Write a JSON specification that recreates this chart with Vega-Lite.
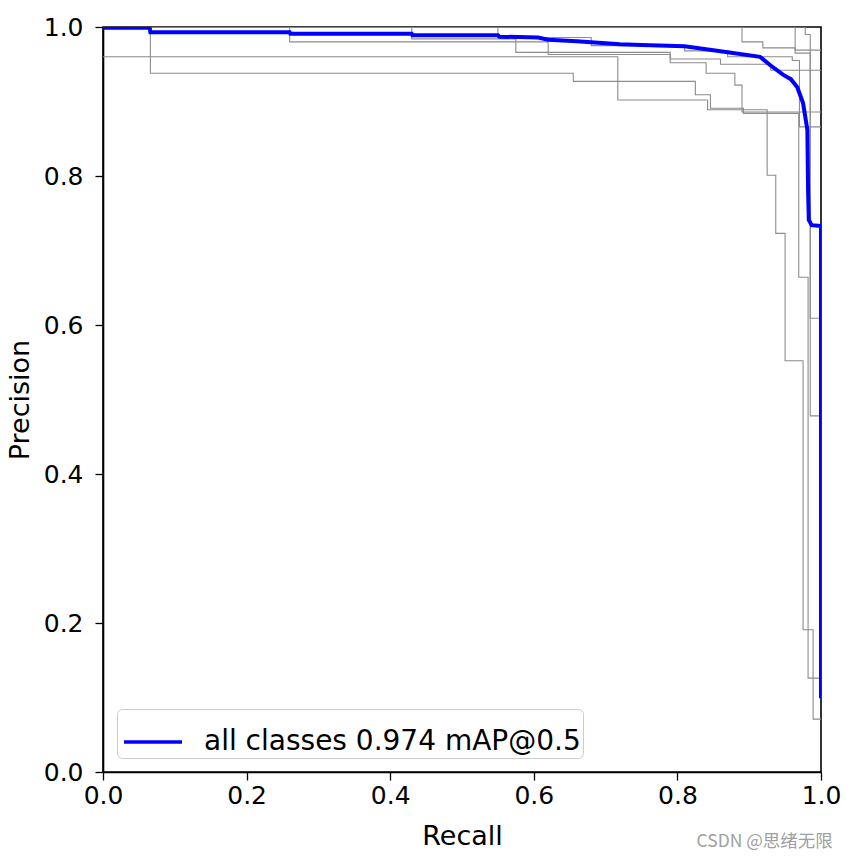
{
  "$schema": "https://vega.github.io/schema/vega-lite/v6.json",
  "autosize": "none",
  "width": 718,
  "height": 745,
  "padding": {"left": 103, "top": 27, "right": 26, "bottom": 87},
  "background": "white",
  "config": {
    "font": "DejaVu Sans",
    "view": {"stroke": "black", "strokeWidth": 1.6},
    "axis": {
      "domainColor": "black", "domainWidth": 1.6, "tickColor": "black", "tickWidth": 1.3, "tickSize": 8,
      "labelFontSize": 25, "labelColor": "black", "titleFontSize": 27, "titleColor": "black",
      "titleFontWeight": "normal", "grid": false, "labelFlush": false, "labelOverlap": false
    }
  },
  "title": {"text": "CSDN @思绪无限", "orient": "bottom", "anchor": "end", "fontSize": 17.5, "color": "#a0a0a0", "font": "Noto Sans CJK SC", "fontWeight": "normal", "offset": -16, "dx": -8},
  "datasets": {
    "gray": [
      {"cls": "c1", "i": 0, "recall": 0, "precision": 0.960},
      {"cls": "c1", "i": 1, "recall": 0.717, "precision": 0.902},
      {"cls": "c1", "i": 2, "recall": 0.842, "precision": 0.889},
      {"cls": "c1", "i": 3, "recall": 0.925, "precision": 0.801},
      {"cls": "c1", "i": 4, "recall": 0.937, "precision": 0.723},
      {"cls": "c1", "i": 5, "recall": 0.950, "precision": 0.552},
      {"cls": "c1", "i": 6, "recall": 0.975, "precision": 0.191},
      {"cls": "c1", "i": 7, "recall": 0.989, "precision": 0.071},
      {"cls": "c1", "i": 8, "recall": 1.0, "precision": 0.071},
      {"cls": "c2", "i": 0, "recall": 0, "precision": 1.0},
      {"cls": "c2", "i": 1, "recall": 0.066, "precision": 0.938},
      {"cls": "c2", "i": 2, "recall": 0.655, "precision": 0.927},
      {"cls": "c2", "i": 3, "recall": 0.825, "precision": 0.909},
      {"cls": "c2", "i": 4, "recall": 0.846, "precision": 0.891},
      {"cls": "c2", "i": 5, "recall": 0.892, "precision": 0.884},
      {"cls": "c2", "i": 6, "recall": 0.969, "precision": 0.664},
      {"cls": "c2", "i": 7, "recall": 0.982, "precision": 0.126},
      {"cls": "c2", "i": 8, "recall": 1.0, "precision": 0.126},
      {"cls": "c3", "i": 0, "recall": 0, "precision": 1.0},
      {"cls": "c3", "i": 1, "recall": 0.26, "precision": 0.980},
      {"cls": "c3", "i": 2, "recall": 0.62, "precision": 0.963},
      {"cls": "c3", "i": 3, "recall": 0.79, "precision": 0.957},
      {"cls": "c3", "i": 4, "recall": 0.86, "precision": 0.950},
      {"cls": "c3", "i": 5, "recall": 0.93, "precision": 0.942},
      {"cls": "c3", "i": 6, "recall": 1.0, "precision": 0.942},
      {"cls": "c4", "i": 0, "recall": 0, "precision": 1.0},
      {"cls": "c4", "i": 1, "recall": 0.43, "precision": 0.984},
      {"cls": "c4", "i": 2, "recall": 0.575, "precision": 0.966},
      {"cls": "c4", "i": 3, "recall": 0.79, "precision": 0.952},
      {"cls": "c4", "i": 4, "recall": 0.84, "precision": 0.938},
      {"cls": "c4", "i": 5, "recall": 0.88, "precision": 0.922},
      {"cls": "c4", "i": 6, "recall": 0.89, "precision": 0.886},
      {"cls": "c4", "i": 7, "recall": 1.0, "precision": 0.886},
      {"cls": "c5", "i": 0, "recall": 0, "precision": 1.0},
      {"cls": "c5", "i": 1, "recall": 0.55, "precision": 0.986},
      {"cls": "c5", "i": 2, "recall": 0.68, "precision": 0.975},
      {"cls": "c5", "i": 3, "recall": 0.81, "precision": 0.968},
      {"cls": "c5", "i": 4, "recall": 0.87, "precision": 0.960},
      {"cls": "c5", "i": 5, "recall": 0.96, "precision": 0.955},
      {"cls": "c5", "i": 6, "recall": 0.97, "precision": 0.866},
      {"cls": "c5", "i": 7, "recall": 1.0, "precision": 0.866},
      {"cls": "c6", "i": 0, "recall": 0, "precision": 1.0},
      {"cls": "c6", "i": 1, "recall": 0.89, "precision": 0.980},
      {"cls": "c6", "i": 2, "recall": 0.919, "precision": 0.972},
      {"cls": "c6", "i": 3, "recall": 0.964, "precision": 0.969},
      {"cls": "c6", "i": 4, "recall": 1.0, "precision": 0.969},
      {"cls": "c7", "i": 0, "recall": 0, "precision": 1.0},
      {"cls": "c7", "i": 1, "recall": 0.964, "precision": 0.965},
      {"cls": "c7", "i": 2, "recall": 0.985, "precision": 0.609},
      {"cls": "c7", "i": 3, "recall": 1.0, "precision": 0.609},
      {"cls": "c8", "i": 0, "recall": 0, "precision": 1.0},
      {"cls": "c8", "i": 1, "recall": 0.978, "precision": 0.99},
      {"cls": "c8", "i": 2, "recall": 0.985, "precision": 0.478},
      {"cls": "c8", "i": 3, "recall": 1.0, "precision": 0.478}
    ],
    "mean": [
      {"name": "all classes 0.974 mAP@0.5", "i": 0, "recall": 0, "precision": 0.999},
      {"name": "all classes 0.974 mAP@0.5", "i": 1, "recall": 0.065, "precision": 0.999},
      {"name": "all classes 0.974 mAP@0.5", "i": 2, "recall": 0.066, "precision": 0.993},
      {"name": "all classes 0.974 mAP@0.5", "i": 3, "recall": 0.26, "precision": 0.993},
      {"name": "all classes 0.974 mAP@0.5", "i": 4, "recall": 0.261, "precision": 0.991},
      {"name": "all classes 0.974 mAP@0.5", "i": 5, "recall": 0.43, "precision": 0.991},
      {"name": "all classes 0.974 mAP@0.5", "i": 6, "recall": 0.431, "precision": 0.989},
      {"name": "all classes 0.974 mAP@0.5", "i": 7, "recall": 0.55, "precision": 0.989},
      {"name": "all classes 0.974 mAP@0.5", "i": 8, "recall": 0.552, "precision": 0.987},
      {"name": "all classes 0.974 mAP@0.5", "i": 9, "recall": 0.606, "precision": 0.986},
      {"name": "all classes 0.974 mAP@0.5", "i": 10, "recall": 0.62, "precision": 0.983},
      {"name": "all classes 0.974 mAP@0.5", "i": 11, "recall": 0.66, "precision": 0.981},
      {"name": "all classes 0.974 mAP@0.5", "i": 12, "recall": 0.69, "precision": 0.979},
      {"name": "all classes 0.974 mAP@0.5", "i": 13, "recall": 0.72, "precision": 0.977},
      {"name": "all classes 0.974 mAP@0.5", "i": 14, "recall": 0.75, "precision": 0.976},
      {"name": "all classes 0.974 mAP@0.5", "i": 15, "recall": 0.81, "precision": 0.974},
      {"name": "all classes 0.974 mAP@0.5", "i": 16, "recall": 0.84, "precision": 0.970},
      {"name": "all classes 0.974 mAP@0.5", "i": 17, "recall": 0.87, "precision": 0.966},
      {"name": "all classes 0.974 mAP@0.5", "i": 18, "recall": 0.915, "precision": 0.960},
      {"name": "all classes 0.974 mAP@0.5", "i": 19, "recall": 0.929, "precision": 0.949},
      {"name": "all classes 0.974 mAP@0.5", "i": 20, "recall": 0.947, "precision": 0.936},
      {"name": "all classes 0.974 mAP@0.5", "i": 21, "recall": 0.958, "precision": 0.930},
      {"name": "all classes 0.974 mAP@0.5", "i": 22, "recall": 0.967, "precision": 0.919},
      {"name": "all classes 0.974 mAP@0.5", "i": 23, "recall": 0.975, "precision": 0.898},
      {"name": "all classes 0.974 mAP@0.5", "i": 24, "recall": 0.978, "precision": 0.880},
      {"name": "all classes 0.974 mAP@0.5", "i": 25, "recall": 0.981, "precision": 0.862},
      {"name": "all classes 0.974 mAP@0.5", "i": 26, "recall": 0.982, "precision": 0.781},
      {"name": "all classes 0.974 mAP@0.5", "i": 27, "recall": 0.983, "precision": 0.741},
      {"name": "all classes 0.974 mAP@0.5", "i": 28, "recall": 0.987, "precision": 0.734},
      {"name": "all classes 0.974 mAP@0.5", "i": 29, "recall": 1.0, "precision": 0.733},
      {"name": "all classes 0.974 mAP@0.5", "i": 30, "recall": 1.0, "precision": 0.099}
    ]
  },
  "layer": [
    {
      "data": {"name": "gray"},
      "mark": {"type": "line", "interpolate": "step-after", "color": "#8c8c8c", "strokeWidth": 1.1, "clip": true},
      "encoding": {
        "x": {"field": "recall", "type": "quantitative", "scale": {"domain": [0, 1], "nice": false, "zero": false},
              "axis": {"title": "Recall", "values": [0, 0.2, 0.4, 0.6, 0.8, 1.0], "format": ".1f", "labelPadding": 3, "titlePadding": 15}},
        "y": {"field": "precision", "type": "quantitative", "scale": {"domain": [0, 1], "nice": false, "zero": false},
              "axis": {"title": "Precision", "values": [0, 0.2, 0.4, 0.6, 0.8, 1.0], "format": ".1f", "labelPadding": 12, "titlePadding": 9}},
        "detail": {"field": "cls"},
        "order": {"field": "i", "type": "quantitative"}
      }
    },
    {
      "data": {"name": "mean"},
      "mark": {"type": "line", "interpolate": "linear", "strokeWidth": 4, "clip": true},
      "encoding": {
        "x": {"field": "recall", "type": "quantitative"},
        "y": {"field": "precision", "type": "quantitative"},
        "order": {"field": "i", "type": "quantitative"},
        "color": {"field": "name", "type": "nominal",
          "scale": {"domain": ["all classes 0.974 mAP@0.5"], "range": ["#0000ff"]},
          "legend": {"title": null, "orient": "bottom-left", "offset": 14, "symbolType": "stroke", "symbolSize": 3364,
            "symbolStrokeWidth": 3.5, "symbolOffset": 3, "labelFontSize": 28, "labelColor": "black", "labelOffset": 20, "labelLimit": 0,
            "padding": 2, "strokeColor": "#cccccc", "fillColor": "white", "cornerRadius": 5, "rowPadding": 0}
        }
      }
    }
  ]
}
